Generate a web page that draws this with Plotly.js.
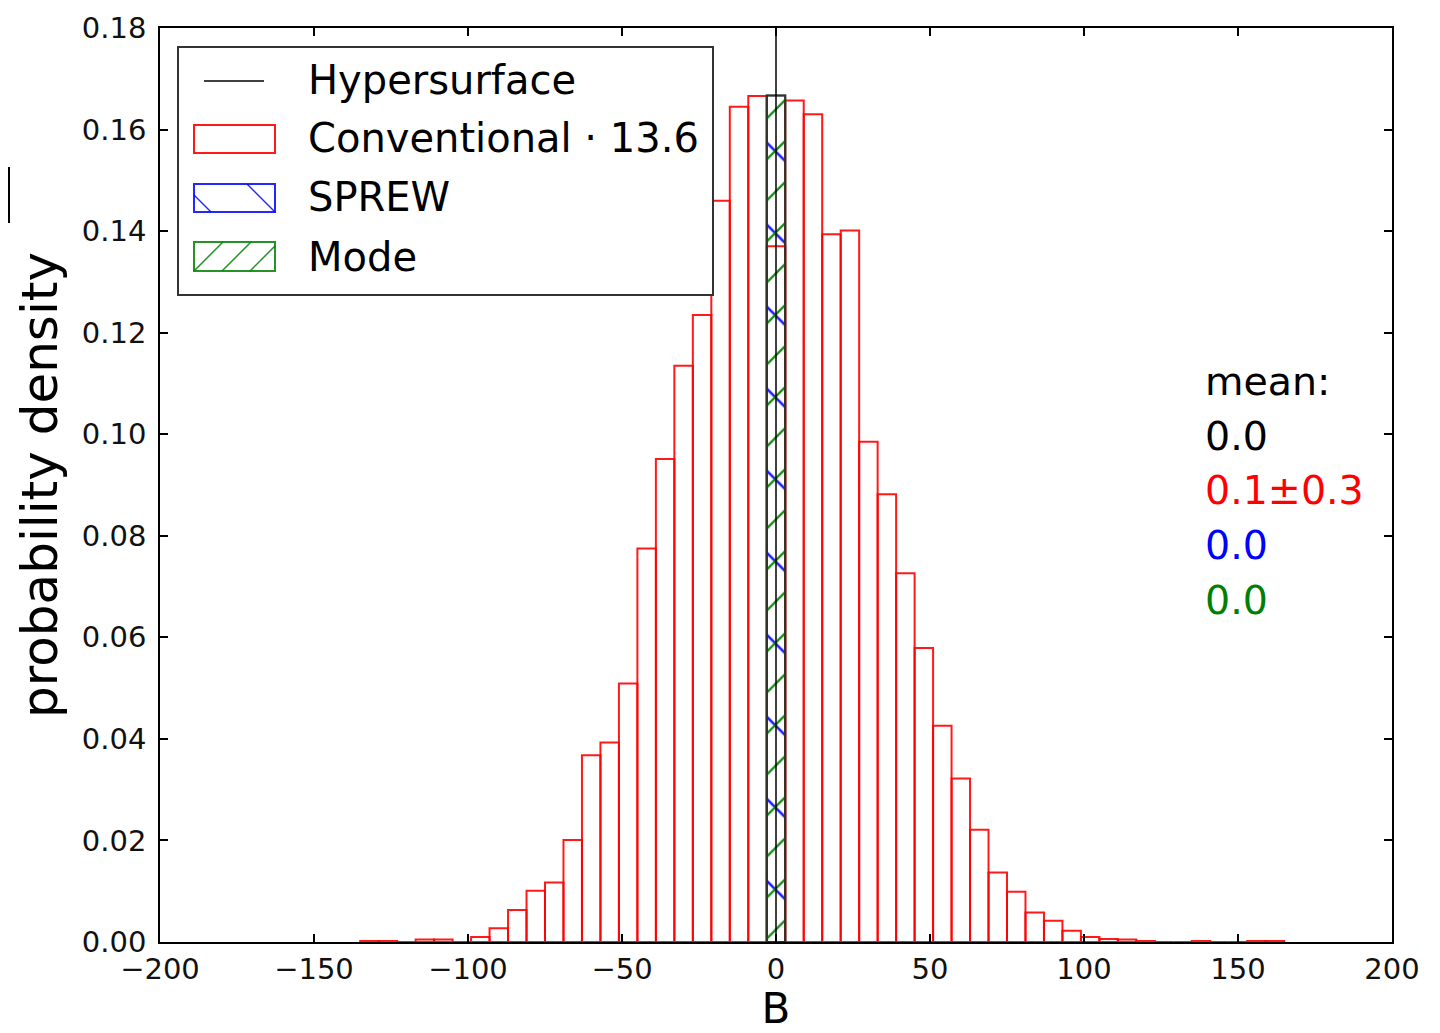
<!DOCTYPE html>
<html><head><meta charset="utf-8">
<script src="https://cdn.plot.ly/plotly-3.0.1.min.js"></script>
<style>html,body{margin:0;padding:0;background:#fff}#chart{width:1440px;height:1033px}</style>
</head><body><div id="chart"></div>
<script>
// ---- data ----
const binCenters = [-132,-126,-120,-114,-108,-102,-96,-90,-84,-78,-72,-66,-60,-54,-48,-42,-36,-30,-24,-18,-12,-6,0,6,12,18,24,30,36,42,48,54,60,66,72,78,84,90,96,102,108,114,120,126,132,138,144,150,156,162];
const conventional = [0.0002,0.0002,0,0.0005,0.0005,0,0.0010,0.0027,0.0063,0.0101,0.0117,0.0201,0.0368,0.0393,0.0509,0.0775,0.0951,0.1135,0.1235,0.1460,0.1645,0.1666,0.1370,0.1657,0.1630,0.1394,0.1401,0.0985,0.0882,0.0726,0.0579,0.0426,0.0322,0.0221,0.0137,0.0099,0.0058,0.0042,0.0022,0.0010,0.0006,0.0005,0.0002,0,0,0.0002,0,0,0.0002,0.0002];
const binWidth = 6;
const sprewX = [0];
const sprewY = [0.1667];
const modeX = [0];
const modeY = [0.1667];
const hypersurfaceX = [0];
const legendLabels = ["Hypersurface", "Conventional \u00b7 13.6", "SPREW", "Mode"];
const meanTitle = "mean:";
const meanLabels = ["0.0", "0.1\u00b10.3", "0.0", "0.0"];
const meanColors = ["#000000", "#ff0000", "#0000ff", "#008000"];
const xTicks = [-200,-150,-100,-50,0,50,100,150,200];
const yTicks = [0,0.02,0.04,0.06,0.08,0.10,0.12,0.14,0.16,0.18];
const xRange = [-200, 200];
const yRange = [0, 0.18];

// ---- layout helpers (pixel -> paper) ----
const L = 160, R = 1392, T = 28, B = 942;
const px = x => (x - L) / (R - L);
const py = y => (B - y) / (B - T);
const FONT = "DejaVu Sans, Liberation Sans, sans-serif";

const traces = [
  {type:'bar', x: binCenters, y: conventional, width: binWidth, name: legendLabels[1], showlegend:false,
   marker:{color:'rgba(0,0,0,0)', line:{color:'rgba(255,0,0,0.9)', width:2}}, hoverinfo:'x+y'},
  {type:'bar', x: sprewX, y: sprewY, width: binWidth, name: legendLabels[2], showlegend:false,
   marker:{color:'rgba(0,0,0,0)', line:{color:'rgba(40,50,40,0.85)', width:2},
     pattern:{shape:'\\', fillmode:'replace', fgcolor:'rgba(0,0,255,0.9)', bgcolor:'rgba(0,0,0,0)', size:58, solidity:0.045}}},
  {type:'bar', x: modeX, y: modeY, width: binWidth, name: legendLabels[3], showlegend:false,
   marker:{color:'rgba(0,0,0,0)', line:{color:'rgba(40,50,40,0.85)', width:2},
     pattern:{shape:'/', fillmode:'replace', fgcolor:'rgba(0,128,0,0.9)', bgcolor:'rgba(0,0,0,0)', size:29, solidity:0.08}}},
  {type:'scatter', mode:'lines', x:[hypersurfaceX[0], hypersurfaceX[0]], y:[yRange[0], yRange[1]], name: legendLabels[0], showlegend:false,
   line:{color:'#000', width:1.5}}
];

const shapes = [];
const annotations = [];
// legend box
shapes.push({type:'rect', xref:'paper', yref:'paper', x0:px(178), x1:px(713), y0:py(47), y1:py(295),
  line:{color:'#333', width:2}, fillcolor:'#fff', layer:'above'});
// hypersurface symbol
shapes.push({type:'line', xref:'paper', yref:'paper', x0:px(204), x1:px(264), y0:py(81), y1:py(81), line:{color:'#000', width:1.5}, layer:'above'});
// conventional symbol
shapes.push({type:'rect', xref:'paper', yref:'paper', x0:px(194), x1:px(275), y0:py(125), y1:py(153), line:{color:'rgba(255,0,0,0.9)', width:2}, layer:'above'});
// sprew symbol
shapes.push({type:'rect', xref:'paper', yref:'paper', x0:px(194), x1:px(275), y0:py(184), y1:py(212), line:{color:'rgba(0,0,255,0.85)', width:2}, layer:'above'});
shapes.push({type:'line', xref:'paper', yref:'paper', x0:px(194), x1:px(211), y0:py(195), y1:py(212), line:{color:'rgba(0,0,255,0.85)', width:1.5}, layer:'above'});
shapes.push({type:'line', xref:'paper', yref:'paper', x0:px(247), x1:px(275), y0:py(184), y1:py(212), line:{color:'rgba(0,0,255,0.85)', width:1.5}, layer:'above'});
// mode symbol
shapes.push({type:'rect', xref:'paper', yref:'paper', x0:px(194), x1:px(275), y0:py(242), y1:py(271), line:{color:'rgba(0,128,0,0.85)', width:2}, layer:'above'});
[[194,271,223,242],[222,271,251,242],[250,271,275,246]].forEach(s=>{
  shapes.push({type:'line', xref:'paper', yref:'paper', x0:px(s[0]), x1:px(s[2]), y0:py(s[1]), y1:py(s[3]), line:{color:'rgba(0,128,0,0.85)', width:1.5}, layer:'above'});
});
// stray mark at far left
shapes.push({type:'line', xref:'paper', yref:'paper', x0:px(9), x1:px(9), y0:py(167), y1:py(223), line:{color:'#000', width:2}});

const legendY = [80, 138, 197, 257];
legendLabels.forEach((t,i)=>{
  annotations.push({xref:'paper', yref:'paper', x:px(306), y:py(legendY[i]), xanchor:'left', yanchor:'middle',
    text:t, showarrow:false, font:{family:FONT, size:40, color:'#000'}});
});
annotations.push({xref:'paper', yref:'paper', x:px(1203), y:py(381), xanchor:'left', yanchor:'middle',
  text:meanTitle, showarrow:false, font:{family:FONT, size:39.5, color:'#000'}});
const meanY = [436, 490, 545, 600];
meanLabels.forEach((t,i)=>{
  annotations.push({xref:'paper', yref:'paper', x:px(1203), y:py(meanY[i]), xanchor:'left', yanchor:'middle',
    text:t, showarrow:false, font:{family:FONT, size:39.5, color:meanColors[i]}});
});

const axisCommon = {showgrid:false, zeroline:false, showline:true, mirror:'ticks', linecolor:'#000', linewidth:1.5,
  ticks:'inside', ticklen:8, tickwidth:1.5, tickcolor:'#000', tickfont:{family:FONT, size:29, color:'#111'}, automargin:false};

const layout = {
  width:1440, height:1033,
  margin:{l:L, r:1440-R, t:T, b:1033-B},
  paper_bgcolor:'#fff', plot_bgcolor:'#fff',
  barmode:'overlay', showlegend:false,
  xaxis:Object.assign({}, axisCommon, {range:xRange, tickvals:xTicks, ticklabelstandoff:0,
    title:{text:'B', font:{family:FONT, size:42, color:'#000'}, standoff:8}}),
  yaxis:Object.assign({}, axisCommon, {range:yRange, tickvals:yTicks, tickformat:'.2f', ticklabelstandoff:6,
    title:{text:'probability density', font:{family:FONT, size:50, color:'#000'}, standoff:8}}),
  shapes:shapes, annotations:annotations
};
Plotly.newPlot('chart', traces, layout, {displayModeBar:false});
</script>
</body></html>
